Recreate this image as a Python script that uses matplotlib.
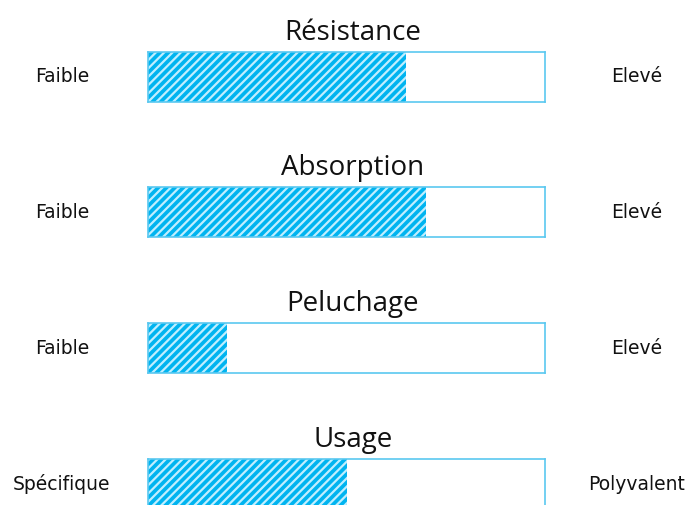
import matplotlib.pyplot as plt

plt.rcParams['font.family'] = ['Open Sans', 'DejaVu Sans']
plt.rcParams['hatch.linewidth'] = 1.6

criteres = ["Résistance", "Absorption", "Peluchage", "Usage"]
valeurs = [65, 70, 20, 50]
gauche = ["Faible", "Faible", "Faible", "Spécifique"]
droite = ["Elevé", "Elevé", "Elevé", "Polyvalent"]

W, H = 698, 505
fig = plt.figure(figsize=(W / 100, H / 100), dpi=100)

bleu = '#00b4f0'
cadre = '#5ac8f0'
x0, largeur, haut = 148, 397, 50
tops = [52, 187, 323, 459]

for i, nom in enumerate(criteres):
    top = tops[i]
    ax = fig.add_axes([x0 / W, (H - top - haut) / H, largeur / W, haut / H])
    ax.barh(0, valeurs[i], height=1, left=0, color=bleu, hatch='////',
            edgecolor='#bfeeff', linewidth=0)
    ax.set_xlim(0, 100)
    ax.set_ylim(-0.5, 0.5)
    ax.set_xticks([])
    ax.set_yticks([])
    for s in ax.spines.values():
        s.set_color(cadre)
        s.set_linewidth(1.2)
    ax.set_title(nom, fontsize=20, pad=9, color='#111111', x=0.516)
    fig.text(62 / W, (H - top - haut / 2) / H, gauche[i], ha='center', va='center',
             fontsize=13.5, color='#111111', family='DejaVu Sans')
    fig.text(637 / W, (H - top - haut / 2) / H, droite[i], ha='center', va='center',
             fontsize=13.5, color='#111111', family='DejaVu Sans')

fig.savefig('out.png', dpi=100)
